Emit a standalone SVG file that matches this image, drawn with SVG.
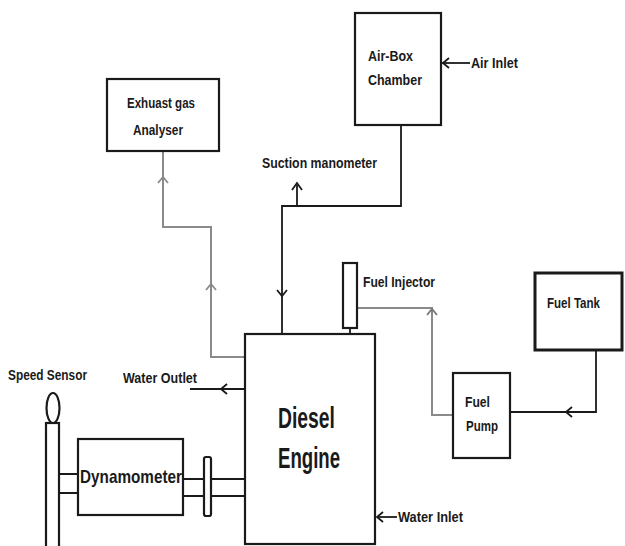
<svg xmlns="http://www.w3.org/2000/svg" width="625" height="546" viewBox="0 0 625 546">
<style>
.box{fill:#fff;stroke:#1a1a1a;stroke-width:2.2}
.thick{stroke-width:3}
.ln{fill:none;stroke:#1a1a1a;stroke-width:1.8}
.gr{fill:none;stroke:#8a8a8a;stroke-width:2}
.t{font-family:"Liberation Sans",Arial,sans-serif;font-weight:bold;font-size:15px;fill:#1a1a1a}
.big{font-size:29px}
.mid{font-size:19px}
</style>
<defs>
<path id="chev" d="M-5,6 L0,0 L5,6" fill="none" stroke-width="1.8"/>
</defs>
<rect width="625" height="546" fill="#fff"/>
<g id="connectors">
<path class="ln" d="M401,125 V206 H282 V334"/>
<path class="ln" d="M297,206 V185"/>
<path class="ln" d="M292,190 L297,183 L302,190" stroke-width="2.2"/>
<use href="#chev" stroke="#1a1a1a" transform="translate(282,296) rotate(180)"/>
<path class="gr" d="M245,357 H211 V227 H163 V151"/>
<use href="#chev" stroke="#8a8a8a" transform="translate(163,177)"/>
<use href="#chev" stroke="#8a8a8a" transform="translate(211,284)"/>
<path class="ln" d="M350,328 V334"/>
<path class="gr" d="M357,308 H432 V415 H453" stroke="#777"/>
<use href="#chev" stroke="#777" transform="translate(432,309)"/>
<path class="ln" d="M596,350 V412 H510"/>
<use href="#chev" stroke="#1a1a1a" transform="translate(566,412) rotate(-90)"/>
<path class="ln" d="M470,63 H442"/>
<use href="#chev" stroke="#1a1a1a" transform="translate(443,63) rotate(-90)"/>
<path class="ln" d="M245,389 H190"/>
<use href="#chev" stroke="#1a1a1a" transform="translate(221,389) rotate(-90)"/>
<path class="ln" d="M397,517 H377"/>
<use href="#chev" stroke="#1a1a1a" transform="translate(377,517) rotate(-90)"/>
<path class="ln" d="M59,474 H78 M59,493 H78" stroke-width="2.2"/>
<path class="ln" d="M183,479 H245 M183,496 H245" stroke-width="2.2"/>
</g>
<g id="exhaust-analyser">
<rect class="box" x="107" y="79" width="112" height="72"/>
<text class="t" x="161" y="108" text-anchor="middle" textLength="68" lengthAdjust="spacingAndGlyphs">Exhuast gas</text>
<text class="t" x="158" y="135" text-anchor="middle" textLength="50" lengthAdjust="spacingAndGlyphs">Analyser</text>
</g>
<g id="airbox">
<rect class="box" x="355" y="13" width="86" height="112"/>
<text class="t" x="368" y="61" textLength="45" lengthAdjust="spacingAndGlyphs">Air-Box</text>
<text class="t" x="368" y="85" textLength="54" lengthAdjust="spacingAndGlyphs">Chamber</text>
</g>
<g id="air-inlet"><text class="t" x="471" y="68" textLength="47" lengthAdjust="spacingAndGlyphs">Air Inlet</text></g>
<g id="suction-manometer"><text class="t" x="262" y="168" textLength="115" lengthAdjust="spacingAndGlyphs">Suction manometer</text></g>
<g id="fuel-injector">
<rect class="box" x="343" y="263" width="14" height="65"/>
<text class="t" x="363" y="287" textLength="72" lengthAdjust="spacingAndGlyphs">Fuel Injector</text>
</g>
<g id="fuel-tank">
<rect class="box thick" x="535" y="273" width="87" height="77"/>
<text class="t" x="547" y="308" textLength="53" lengthAdjust="spacingAndGlyphs">Fuel Tank</text>
</g>
<g id="fuel-pump">
<rect class="box" x="453" y="373" width="57" height="85"/>
<text class="t" x="465" y="407" textLength="25" lengthAdjust="spacingAndGlyphs">Fuel</text>
<text class="t" x="466" y="431" textLength="32" lengthAdjust="spacingAndGlyphs">Pump</text>
</g>
<g id="diesel-engine">
<rect class="box" x="245" y="334" width="130" height="210"/>
<text class="t big" x="278" y="428" textLength="57" lengthAdjust="spacingAndGlyphs">Diesel</text>
<text class="t big" x="278" y="468" textLength="62" lengthAdjust="spacingAndGlyphs">Engine</text>
</g>
<g id="water-outlet"><text class="t" x="123" y="383" textLength="74" lengthAdjust="spacingAndGlyphs">Water Outlet</text></g>
<g id="water-inlet"><text class="t" x="398" y="522" textLength="65" lengthAdjust="spacingAndGlyphs">Water Inlet</text></g>
<g id="speed-sensor">
<rect class="box" x="46" y="423" width="13" height="130"/>
<ellipse class="box" cx="53" cy="408" rx="6.5" ry="15"/>
<text class="t" x="8" y="380" textLength="79" lengthAdjust="spacingAndGlyphs">Speed Sensor</text>
</g>
<g id="dynamometer">
<rect class="box" x="78" y="439" width="105" height="76"/>
<text class="t mid" x="80" y="483" textLength="102" lengthAdjust="spacingAndGlyphs">Dynamometer</text>
</g>
<g id="coupling">
<rect class="box" x="204" y="457" width="7" height="59" rx="2"/>
</g>
</svg>
